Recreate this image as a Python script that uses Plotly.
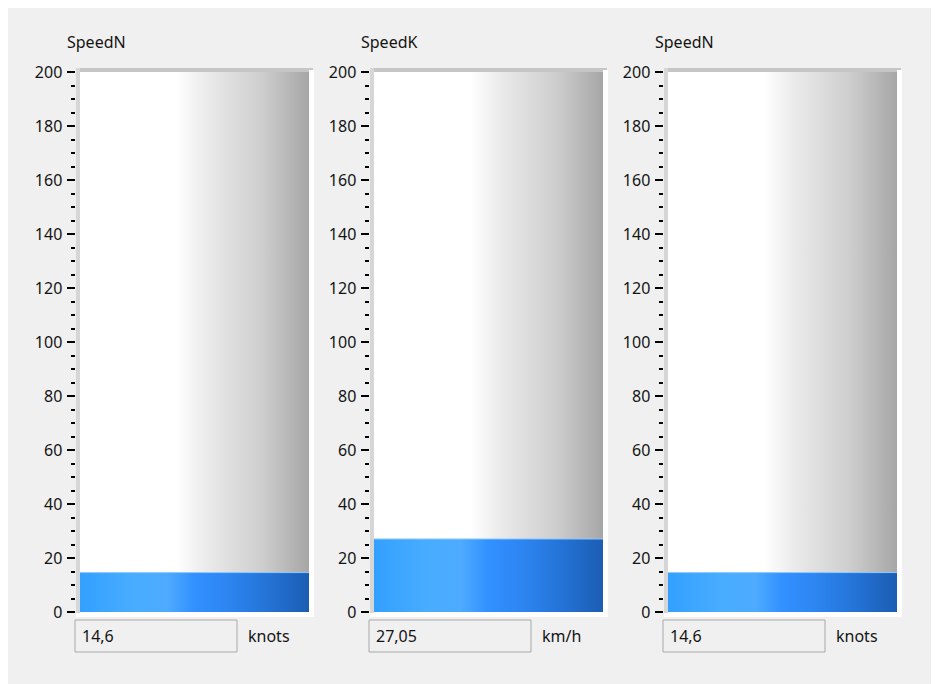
import plotly.graph_objects as go

# ---- data ----
titles = ["SpeedN", "SpeedK", "SpeedN"]
values = [14.6, 27.05, 14.6]
units = ["knots", "km/h", "knots"]
y_min, y_max = 0, 200
major_step = 20
minor_step = 5

W, H = 939, 684
PAGE_OFF = 8  # page margin around the figure
FONT = "Noto Sans, DejaVu Sans, sans-serif"
TXT = "#141414"


def px(x):
    return (x - PAGE_OFF) / W


def py(y):
    return 1 - (y - PAGE_OFF) / H


empty_scale = [[0.0, "#ffffff"], [0.42, "#ffffff"], [0.55, "#ebebeb"],
               [0.8, "#cdcdcd"], [1.0, "#a6a6a6"]]
fill_scale = [[0.0, "#33a0ff"], [0.22, "#47acff"], [0.38, "#4eabff"],
              [0.50, "#3290ff"], [0.64, "#2d86f2"], [0.82, "#2473d6"],
              [1.0, "#1b5db3"]]

fig = go.Figure()
shapes = []
annotations = []

offsets = [0, 294, 588]
for i, (t, v, u) in enumerate(zip(titles, values, units)):
    off = offsets[i]
    xa = "x" if i == 0 else f"x{i+1}"
    ya = "y" if i == 0 else f"y{i+1}"
    fig.add_trace(go.Scatter(
        x=[0, 1, 1, 0, 0], y=[v, v, y_max, y_max, v], mode="lines",
        fill="toself", line=dict(width=0), hoverinfo="skip",
        fillgradient=dict(type="horizontal", colorscale=empty_scale),
        showlegend=False, xaxis=xa, yaxis=ya))
    fig.add_trace(go.Scatter(
        x=[0, 1, 1, 0, 0], y=[y_min, y_min, v, v, y_min], mode="lines",
        fill="toself", line=dict(width=0), hoverinfo="skip",
        fillgradient=dict(type="horizontal", colorscale=fill_scale),
        showlegend=False, xaxis=xa, yaxis=ya))
    fig.add_trace(go.Scatter(
        x=[0, 1], y=[v, v], mode="lines",
        line=dict(width=1, color="#8cc8ff"), hoverinfo="skip",
        showlegend=False, xaxis=xa, yaxis=ya))

    xkey = "xaxis" if i == 0 else f"xaxis{i+1}"
    ykey = "yaxis" if i == 0 else f"yaxis{i+1}"
    fig.layout[xkey] = dict(domain=[px(80 + off), px(309 + off)], range=[0, 1],
                            visible=False, fixedrange=True, anchor=ya)
    fig.layout[ykey] = dict(
        domain=[py(612), py(72)], range=[y_min, y_max], anchor="free",
        position=px(74.5 + off), dtick=major_step, tick0=0, ticks="outside",
        ticklen=8, tickwidth=1.6, tickcolor="#000000", showline=False,
        showgrid=False, zeroline=False, fixedrange=True,
        ticklabelstandoff=1,
        tickfont=dict(family=FONT, size=16, color=TXT),
        minor=dict(dtick=minor_step, tick0=0, ticks="outside", ticklen=4,
                   tickwidth=2, tickcolor="#000000", showgrid=False))

    shapes += [
        dict(type="rect", xref="paper", yref="paper", x0=px(76 + off),
             x1=px(313 + off), y0=py(72), y1=py(68), fillcolor="#c6c6c6",
             line=dict(width=0)),
        dict(type="rect", xref="paper", yref="paper", x0=px(309 + off),
             x1=px(314 + off), y0=py(616), y1=py(70), fillcolor="#ffffff",
             line=dict(width=0)),
        dict(type="rect", xref="paper", yref="paper", x0=px(76 + off),
             x1=px(314 + off), y0=py(617), y1=py(612), fillcolor="#ffffff",
             line=dict(width=0)),
        dict(type="rect", xref="paper", yref="paper", x0=px(76 + off),
             x1=px(80 + off), y0=py(613), y1=py(68), fillcolor="#d6d6d6",
             line=dict(width=0)),
        dict(type="rect", xref="paper", yref="paper", x0=px(75 + off),
             x1=px(237 + off), y0=py(652), y1=py(620), fillcolor="#f0f0f0",
             line=dict(width=1, color="#a9a9a9")),
    ]
    annotations += [
        dict(text=t, x=px(65 + off), y=py(42), xref="paper", yref="paper",
             xanchor="left", yanchor="middle", showarrow=False,
             font=dict(family=FONT, size=16, color=TXT)),
        dict(text=str(v).replace(".", ","), x=px(80 + off), y=py(636),
             xref="paper", yref="paper", xanchor="left", yanchor="middle",
             showarrow=False, font=dict(family=FONT, size=16, color=TXT)),
        dict(text=u, x=px(246 + off), y=py(636), xref="paper", yref="paper",
             xanchor="left", yanchor="middle", showarrow=False,
             font=dict(family=FONT, size=16, color=TXT)),
    ]

fig.update_layout(width=W, height=H,
                  margin=dict(l=0, r=0, t=0, b=0, pad=0, autoexpand=False),
                  paper_bgcolor="#f0f0f0", plot_bgcolor="rgba(0,0,0,0)",
                  shapes=shapes, annotations=annotations, showlegend=False)

fig.write_html("out.html")
